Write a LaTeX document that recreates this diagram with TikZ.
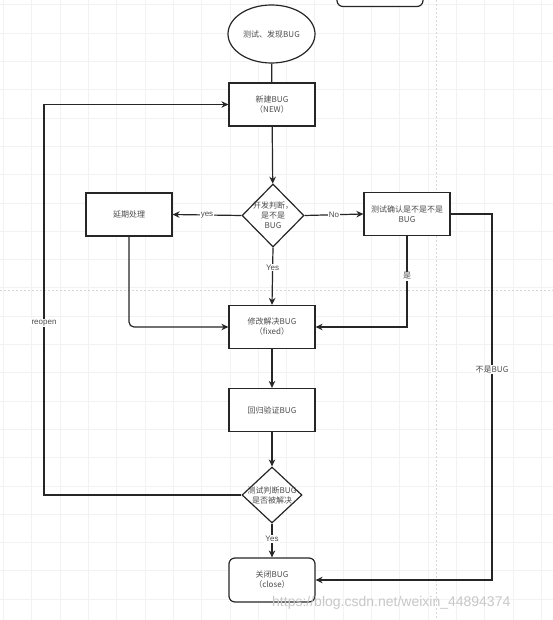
\documentclass[tikz,border=0pt]{standalone}
\usepackage{fontspec}
\setmainfont{Liberation Sans}
\newfontfamily\cjk{Noto Sans CJK SC}
\usetikzlibrary{shapes.geometric,arrows.meta}
\tikzset{
  txt/.style={font=\cjk\fontsize{8}{10}\selectfont, text=black!70},
  box/.style={draw=black!85, line width=1.2pt, minimum width=86pt, minimum height=43pt, fill=white, align=center, txt, inner sep=2pt},
  dia/.style={draw=black!85, line width=1.2pt, shape=diamond, inner sep=0pt, fill=white},
  conn/.style={line width=1.2pt, draw=black!85},
  arr/.style={conn, -{Stealth[length=7pt,width=6.5pt]}},
  lab/.style={fill=white, inner sep=1pt, txt},
  gridline/.style={draw=black!5, line width=0.5pt},
  pageline/.style={draw=black!16, line width=0.6pt, dash pattern=on 2pt off 2pt}
}
\begin{document}
\begin{tikzpicture}[x=1pt,y=-1pt]
\useasboundingbox (0,0) rectangle (553,620);
\clip (0,0) rectangle (553,620);
\fill[white] (0,0) rectangle (553,620);
% grid
\foreach \i in {0,...,19} \draw[gridline] ({3.4+28.3*\i},0) -- ({3.4+28.3*\i},620);
\foreach \j in {0,...,22} \draw[gridline] (0,{4.7+28.3*\j}) -- (553,{4.7+28.3*\j});
\draw[pageline] (436,0) -- (436,620);
\draw[pageline] (0,290) -- (553,290);

% nodes
\node[box, rounded corners=6pt] (topbox) at (380,-15) {};
\node[draw=black!85, line width=1.2pt, shape=ellipse, minimum width=87pt, minimum height=58pt, inner sep=0pt, fill=white, txt] (start) at (271.5,34) {测试、发现BUG};
\node[box] (new) at (272,104.5) {新建BUG\\（NEW）};
\node[dia, minimum width=62pt, minimum height=63pt,
      label={[txt, align=center]center:开发判断，\\是不是\\BUG}] (d1) at (273,215.5) {};
\node[box] (delay) at (129,214.5) {延期处理};
\node[box] (confirm) at (407,214) {测试确认是不是不是\\BUG};
\node[box] (fix) at (272,327) {修改解决BUG\\（fixed）};
\node[box] (reg) at (272,410) {回归验证BUG};
\node[dia, minimum width=60pt, minimum height=56pt,
      label={[txt, align=center]center:测试判断BUG\\是否被解决}] (d2) at (272,495) {};
\node[box, rounded corners=6pt, minimum height=44pt] (close) at (272,580) {关闭BUG\\（close）};

\coordinate (rtop) at (492,214);
\coordinate (lbot) at (44,495);
\coordinate (ltop) at (44,104.5);

% connectors
\draw[conn] (start) -- (new);
\draw[arr] (new) -- (d1);
\draw[arr] (d1.west) -- node[lab, font=\fontsize{8}{10}\selectfont] (lyes) {yes} (delay.east);
\draw[arr] (d1.east) -- node[lab, font=\fontsize{8}{10}\selectfont] (lno) {No} (confirm.west);
\draw[arr] (d1.south) -- node[lab, pos=0.35, font=\fontsize{8}{10}\selectfont] (lyes2) {Yes} (fix.north);
\draw[arr, rounded corners=5pt] (delay.south) |- (fix.west);
\draw[arr] (confirm.south) |- node[lab, pos=0.22] (lshi) {是} (fix.east);
\draw[arr] (confirm.east) -- (rtop) |- node[lab, pos=0.213] (lnot) {不是BUG} (close.east);
\draw[arr] (fix) -- (reg);
\draw[arr] (reg) -- (d2);
\draw[arr] (d2.west) -- (lbot) -- node[lab, pos=0.44, font=\fontsize{8}{10}\selectfont] (lre) {reopen} (ltop) -- (new.west);
\draw[arr] (d2.south) -- node[lab, pos=0.45, font=\fontsize{8}{10}\selectfont] (lyes3) {Yes} (close.north);

% watermark
\node[anchor=west, inner sep=0pt, font=\fontsize{14}{16}\selectfont, text=black!22] (wm) at (272,603) {https://blog.csdn.net/weixin\_44894374};
\end{tikzpicture}
\end{document}
